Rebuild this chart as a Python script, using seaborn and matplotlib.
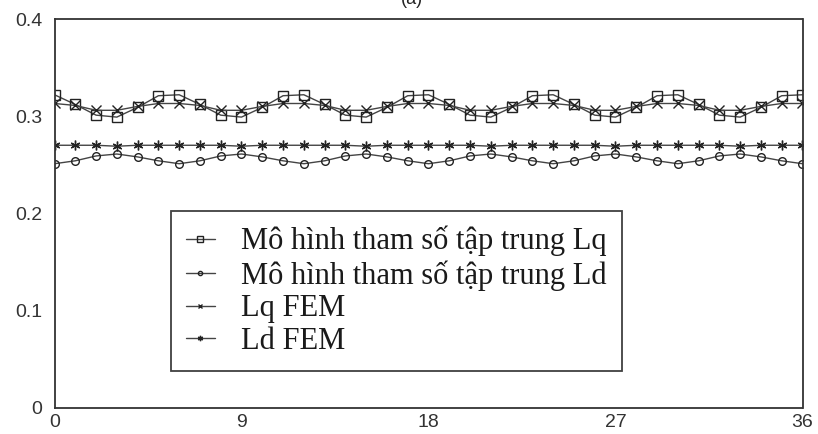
import numpy as np
import pandas as pd
import matplotlib
matplotlib.use("Agg")
import matplotlib.pyplot as plt
import seaborn as sns

# Rotor position samples
angle = list(range(0, 37))

# Inductance values (H) over rotor position
lq_model = [0.322, 0.312, 0.301, 0.299, 0.309, 0.321,
            0.322, 0.312, 0.301, 0.299, 0.309, 0.321,
            0.322, 0.312, 0.301, 0.299, 0.309, 0.321,
            0.322, 0.312, 0.301, 0.299, 0.309, 0.321,
            0.322, 0.312, 0.301, 0.299, 0.309, 0.321,
            0.322, 0.312, 0.301, 0.299, 0.309, 0.321,
            0.322]
ld_model = [0.251, 0.254, 0.259, 0.261, 0.258, 0.254,
            0.251, 0.254, 0.259, 0.261, 0.258, 0.254,
            0.251, 0.254, 0.259, 0.261, 0.258, 0.254,
            0.251, 0.254, 0.259, 0.261, 0.258, 0.254,
            0.251, 0.254, 0.259, 0.261, 0.258, 0.254,
            0.251, 0.254, 0.259, 0.261, 0.258, 0.254,
            0.251]
lq_fem = [0.313, 0.311, 0.306, 0.306, 0.310, 0.313,
          0.313, 0.311, 0.306, 0.306, 0.310, 0.313,
          0.313, 0.311, 0.306, 0.306, 0.310, 0.313,
          0.313, 0.311, 0.306, 0.306, 0.310, 0.313,
          0.313, 0.311, 0.306, 0.306, 0.310, 0.313,
          0.313, 0.311, 0.306, 0.306, 0.310, 0.313,
          0.313]
ld_fem = [0.270, 0.270, 0.270, 0.269, 0.270, 0.270,
          0.270, 0.270, 0.270, 0.269, 0.270, 0.270,
          0.270, 0.270, 0.270, 0.269, 0.270, 0.270,
          0.270, 0.270, 0.270, 0.269, 0.270, 0.270,
          0.270, 0.270, 0.270, 0.269, 0.270, 0.270,
          0.270, 0.270, 0.270, 0.269, 0.270, 0.270,
          0.270]

labels = ["Mô hình tham số tập trung Lq",
          "Mô hình tham số tập trung Ld",
          "Lq FEM",
          "Ld FEM"]
x_ticks = [0, 9, 18, 27, 36]
y_ticks = [0, 0.1, 0.2, 0.3, 0.4]
y_tick_labels = ["0", "0.1", "0.2", "0.3", "0.4"]

sns.set_theme(style="white")
plt.rcParams["font.family"] = ["Liberation Sans", "DejaVu Sans"]

W, H = 818, 434
fig = plt.figure(figsize=(W / 100, H / 100), dpi=100)
ax = fig.add_axes([54.5 / W, 1 - 407.5 / H, 748 / W, 388.5 / H])

series = [lq_model, ld_model, lq_fem, ld_fem]
markers = ["s", "o", "x", (6, 2, 0)]
sizes = [7.5, 5.5, 6.5, 7]
line_col = "#444444"
for vals, lab, mk, ms in zip(series, labels, markers, sizes):
    df = pd.DataFrame({"angle": angle, "L": vals})
    sns.lineplot(data=df, x="angle", y="L", ax=ax, label=lab,
                 color=line_col, linewidth=1.0, marker=mk, markersize=ms,
                 markerfacecolor="none" if mk in ("s", "o") else "#222222",
                 markeredgecolor="#222222", markeredgewidth=1.0)

ax.set_xlim(0, 36)
ax.set_ylim(0, 0.4)
ax.set_xticks(x_ticks)
ax.set_yticks(y_ticks)
ax.set_yticklabels(y_tick_labels)
ax.set_xlabel("")
ax.set_ylabel("")
ax.tick_params(axis="both", direction="in", length=5, width=0.8,
               colors="#333333", labelsize=14)
ax.tick_params(axis="y", pad=9)
ax.tick_params(axis="x", pad=5)
for sp in ax.spines.values():
    sp.set_color("#333333")
    sp.set_linewidth(1.3)

leg = ax.legend(loc="upper left", bbox_to_anchor=(170.7 / W, 1 - 210.7 / H),
                bbox_transform=fig.transFigure,
                prop={"family": ["Liberation Serif", "DejaVu Serif"], "size": 22},
                frameon=True, fancybox=False, edgecolor="#111111",
                labelspacing=0.12, handlelength=0.95, handletextpad=0.85,
                borderpad=0.5, markerscale=0.55, borderaxespad=0)
leg.get_frame().set_linewidth(1.3)
for t in leg.get_texts():
    t.set_color("#1a1a1a")

fig.text(0.503, 1.0, "(a)", ha="center", va="center", fontsize=13,
         color="#222222")

fig.savefig("out.png", dpi=100)
